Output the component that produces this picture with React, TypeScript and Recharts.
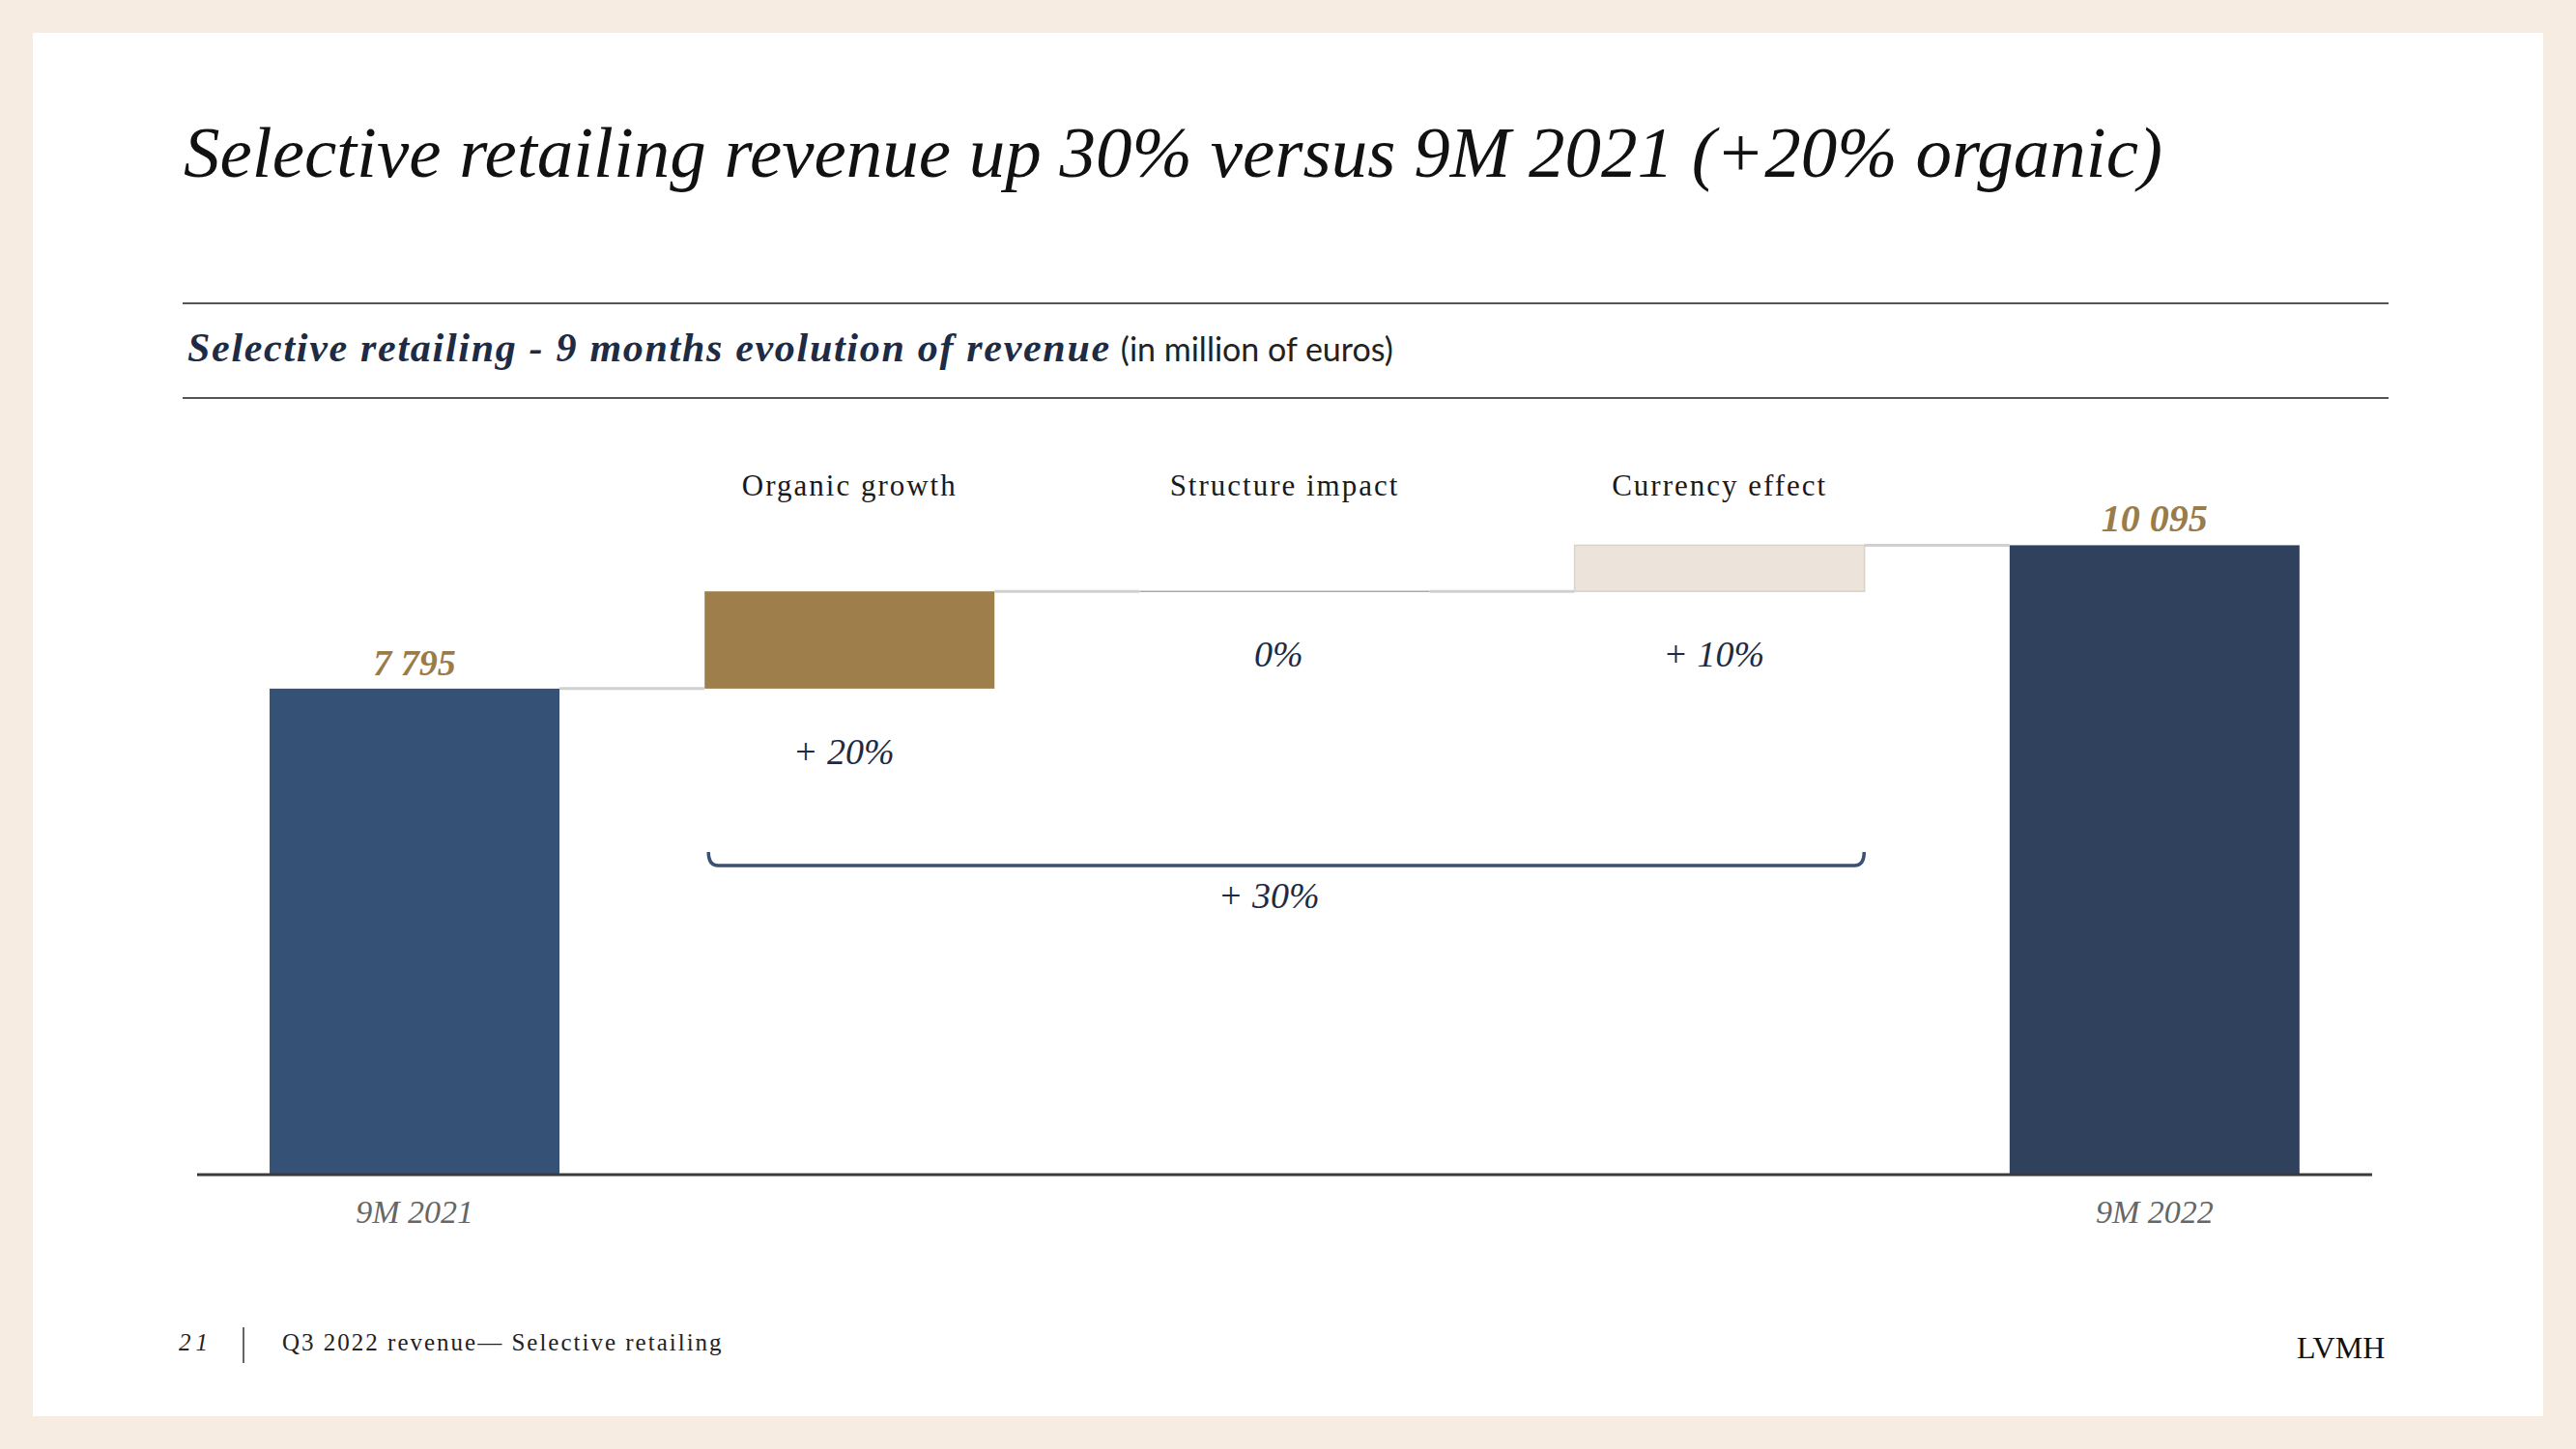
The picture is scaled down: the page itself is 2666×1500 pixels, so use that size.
import { BarChart, Bar, XAxis, YAxis, LabelList } from "recharts"

const categories = ["9M 2021", "Organic growth", "Structure impact", "Currency effect", "9M 2022"]
const values = [7795, 1560, 0, 740, 10095]
const kinds = ["total", "delta", "delta", "delta", "total"]
const valueLabels = ["7 795", "", "", "", "10 095"]
const changeLabels = ["", "+ 20%", "0%", "+ 10%", ""]
const totalChange = "+ 30%"
const colors = ["#355175", "#9E7F4C", "#9E7F4C", "#ECE4DA", "#2F415C"]

// running total gives the invisible base for each delta bar
let running = 0
const data = categories.map((name, i) => {
  const isTotal = kinds[i] === "total"
  const base = isTotal ? 0 : running
  running = isTotal ? values[i] : running + values[i]
  return { name, base, value: values[i] }
})

const serif = "'Liberation Serif', 'Times New Roman', serif"
const navy = "#1D2B45"
const gold = "#9A7B4A"

const firstDelta = kinds.indexOf("delta")
const deltaCount = kinds.filter(k => k === "delta").length

function WaterfallBar(props: any) {
  const { x, y, width, height, index } = props
  // barCategoryGap of 1/6 leaves half a bar width between neighbours
  const gap = width / 2
  const last = index === data.length - 1
  const bracketEnd = x + deltaCount * (width + gap) - gap
  const bracketY = 896
  return (
    <g>
      {height > 0.5 ? (
        <rect
          x={x}
          y={y}
          width={width}
          height={height}
          fill={colors[index]}
          stroke={index === 3 ? "#d8d2ca" : "none"}
          strokeWidth={1.5}
        />
      ) : (
        <line x1={x} x2={x + width} y1={y} y2={y} stroke="#a9a9a9" strokeWidth={1.5} />
      )}
      {!last && (
        <line x1={x + width} x2={x + width + gap} y1={y} y2={y} stroke="#d0d0d0" strokeWidth={3} />
      )}
      {index === firstDelta && (
        <g>
          <path
            d={`M ${x + 4} ${bracketY - 14} Q ${x + 4} ${bracketY} ${x + 14} ${bracketY} L ${bracketEnd - 10} ${bracketY} Q ${bracketEnd} ${bracketY} ${bracketEnd} ${bracketY - 14}`}
            fill="none"
            stroke="#3B5072"
            strokeWidth={3.5}
          />
          <text
            x={(x + bracketEnd) / 2 - 16}
            y={bracketY + 44}
            textAnchor="middle"
            fontFamily={serif}
            fontStyle="italic"
            fontSize={38}
            fill={navy}
          >
            {totalChange}
          </text>
        </g>
      )}
    </g>
  )
}

function BarLabel(props: any) {
  const { x, y, width, height, index } = props
  const cx = x + width / 2
  if (kinds[index] === "total") {
    return (
      <text x={cx} y={y - 14} textAnchor="middle" fontFamily={serif} fontStyle="italic"
        fontWeight="bold" fontSize={index === 0 ? 38 : 40} fill={gold}>
        {valueLabels[index]}
      </text>
    )
  }
  return (
    <text x={cx - 6} y={y + height + 78} textAnchor="middle" fontFamily={serif} fontStyle="italic"
      fontSize={38} fill={navy}>
      {changeLabels[index]}
    </text>
  )
}

function BottomTick(props: any) {
  const { x, y, payload } = props
  const i = categories.indexOf(payload.value)
  if (kinds[i] !== "total") return null
  return (
    <text x={x} y={y} dy={42} textAnchor="middle" fontFamily={serif} fontStyle="italic"
      fontSize={34} fill="#666">
      {payload.value}
    </text>
  )
}

function TopTick(props: any) {
  const { x, y, payload } = props
  const i = categories.indexOf(payload.value)
  if (kinds[i] !== "delta") return null
  return (
    <text x={x} y={y} dy={7} textAnchor="middle" fontFamily={serif} fontSize={31}
      letterSpacing={2} fill="#1a1a1a">
      {payload.value}
    </text>
  )
}

export default function App() {
  return (
    <div style={{ position: "absolute", left: 0, top: 0, width: 2666, height: 1500, background: "#F6ECE2" }}>
      <div style={{ position: "absolute", left: 34, top: 34, width: 2598, height: 1432, background: "#fff" }} />
      <svg width={2666} height={1500} style={{ position: "absolute", left: 0, top: 0 }}>
        <text x={190} y={183} fontFamily={serif} fontStyle="italic" fontSize={75} fill="#111">
          Selective retailing revenue up 30% versus 9M 2021 (+20% organic)
        </text>
        <line x1={189} x2={2472} y1={314} y2={314} stroke="#555" strokeWidth={2} />
        <line x1={189} x2={2472} y1={412} y2={412} stroke="#555" strokeWidth={2} />
        <text x={194} y={374} fontFamily={serif} fontStyle="italic" fontWeight="bold" fontSize={42}
          letterSpacing={1.7} fill={navy}>
          Selective retailing - 9 months evolution of revenue
          <tspan dx={10} fontFamily="Lato, 'Noto Sans', sans-serif" fontStyle="normal" fontWeight="normal"
            fontSize={34} letterSpacing={0} fill="#222">
            (in million of euros)
          </tspan>
        </text>
        <text x={185} y={1398} fontFamily={serif} fontStyle="italic" fontSize={25} letterSpacing={5} fill="#222">
          21
        </text>
        <line x1={252} x2={252} y1={1374} y2={1411} stroke="#333" strokeWidth={1.5} />
        <text x={292} y={1398} fontFamily={serif} fontSize={25} letterSpacing={2} fill="#222">
          Q3 2022 revenue— Selective retailing
        </text>
        <text x={2377} y={1406} fontFamily={serif} fontSize={32} fill="#111">
          LVMH
        </text>
      </svg>
      <div style={{ position: "absolute", left: 0, top: 0 }}>
        <BarChart
          width={2666}
          height={1500}
          data={data}
          margin={{ top: 476, right: 211, bottom: 224, left: 204 }}
          barCategoryGap="16.667%"
        >
          <XAxis
            dataKey="name"
            height={60}
            axisLine={{ stroke: "#3a3a3a", strokeWidth: 3 }}
            tickLine={false}
            tick={<BottomTick />}
            interval={0}
          />
          <XAxis
            xAxisId="top"
            dataKey="name"
            orientation="top"
            height={30}
            axisLine={false}
            tickLine={false}
            tickSize={0}
            tickMargin={0}
            tick={<TopTick />}
            interval={0}
          />
          <YAxis hide domain={[0, 11000]} ticks={[0, 11000]} />
          <Bar dataKey="base" stackId="s" fill="transparent" isAnimationActive={false} />
          <Bar dataKey="value" stackId="s" shape={WaterfallBar} isAnimationActive={false}>
            <LabelList dataKey="value" content={<BarLabel />} />
          </Bar>
        </BarChart>
      </div>
    </div>
  )
}
